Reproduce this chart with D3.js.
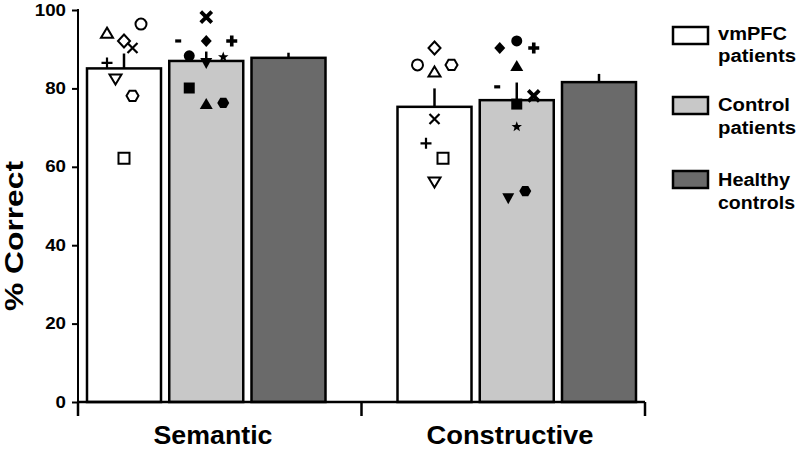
<!DOCTYPE html>
<html>
<head>
<meta charset="utf-8">
<script src="https://cdn.jsdelivr.net/npm/d3@7"></script>
<style>
  html, body { margin: 0; padding: 0; background: #fff; }
  svg { display: block; font-family: "Liberation Sans", Arial, sans-serif; font-weight: bold; }
</style>
</head>
<body>
<svg id="chart" width="800" height="449"></svg>
<script>
// ---------- data ----------
const groups = ["Semantic", "Constructive"];
const series = ["vmPFC patients", "Control patients", "Healthy controls"];
const legendLines = [["vmPFC", "patients"], ["Control", "patients"], ["Healthy", "controls"]];
const yTicks = [0, 20, 40, 60, 80, 100];

const vmpfcMean = [85.1, 75.3];
const controlMean = [87.0, 77.0];
const healthyMean = [87.8, 81.6];
const vmpfcSem = [3.8, 4.7];
const controlSem = [2.4, 4.5];
const healthySem = [1.3, 2.1];

const vmpfcSymbols = ["triangle", "circle", "diamond", "times", "plus", "triangleDown", "hexagon", "square"];
const vmpfcSemantic = [94.1, 96.4, 92.1, 90.3, 86.5, 82.4, 78.1, 62.2];
const vmpfcSemanticJitter = [-2, 2, 0, 1, -2, -1, 1, 0];
const vmpfcConstructive = [84.2, 86.0, 90.3, 72.2, 66.0, 56.1, 86.0, 62.2];
const vmpfcConstructiveJitter = [0, -2, 0, 0, -1, 0, 2, 1];

const controlSymbols = ["timesBold", "minus", "diamondFilled", "plusBold", "circleFilled", "triangleDownFilled", "star", "squareFilled", "triangleFilled", "hexagonFilled"];
const controlSemantic = [98.2, 92.1, 92.1, 92.1, 88.3, 86.5, 88.0, 80.1, 76.0, 76.3];
const controlSemanticJitter = [0, -3.3, 0, 3, -2, 0, 2, -2, 0, 2];
const controlConstructive = [78.1, 80.4, 90.3, 90.3, 92.1, 52.0, 70.2, 76.0, 85.7, 53.8];
const controlConstructiveJitter = [2, -2.3, -2, 2, 0, -1, 0, 0, 0, 1];

// ---------- layout ----------
const svg = d3.select("#chart");
const fills = ["#ffffff", "#c8c8c8", "#6a6a6a"];
const y = d3.scaleLinear().domain([0, 100]).range([402, 10]);
const x0 = d3.scaleBand().domain(groups).range([87, 636]).paddingInner(0.2319).paddingOuter(0);
const x1 = d3.scaleBand().domain(series).range([0, x0.bandwidth()]).paddingInner(0.1003).paddingOuter(0);
const jx = d3.scaleLinear().domain([-1, 1]).range([-8.5, 8.5]);

const means = [vmpfcMean, controlMean, healthyMean];
const sems = [vmpfcSem, controlSem, healthySem];
const barData = [];
groups.forEach((g, gi) => series.forEach((s, si) => barData.push({ g, s, si, v: means[si][gi], e: sems[si][gi] })));

// bars
svg.append("g").selectAll("rect").data(barData).join("rect")
  .attr("x", d => x0(d.g) + x1(d.s))
  .attr("y", d => y(d.v))
  .attr("width", x1.bandwidth())
  .attr("height", d => y(0) - y(d.v))
  .attr("fill", d => fills[d.si])
  .attr("stroke", "#000").attr("stroke-width", 2.5);

// error bars (upper only)
svg.append("g").selectAll("line").data(barData).join("line")
  .attr("x1", d => x0(d.g) + x1(d.s) + x1.bandwidth() / 2)
  .attr("x2", d => x0(d.g) + x1(d.s) + x1.bandwidth() / 2)
  .attr("y1", d => y(d.v))
  .attr("y2", d => y(d.v + d.e))
  .attr("stroke", "#000").attr("stroke-width", 2.5);

// ---------- symbols ----------
function poly(pts) { return "M" + pts.map(p => p[0].toFixed(2) + "," + p[1].toFixed(2)).join("L") + "Z"; }
function hexPts(r) { return d3.range(6).map(i => [r * Math.cos(i * Math.PI / 3), r * Math.sin(i * Math.PI / 3)]); }
function starPts(ro, ri) { return d3.range(10).map(i => { const a = -Math.PI / 2 + i * Math.PI / 5; const r = i % 2 ? ri : ro; return [r * Math.cos(a), r * Math.sin(a)]; }); }
const circ = r => `M${-r},0A${r},${r} 0 1,0 ${r},0A${r},${r} 0 1,0 ${-r},0Z`;
const symbolDefs = {
  triangle:           { d: poly([[0, -5.5], [6, 4.5], [-6, 4.5]]), fill: "#fff", sw: 2 },
  triangleDown:       { d: poly([[0, 5.5], [6, -4.5], [-6, -4.5]]), fill: "#fff", sw: 2 },
  circle:             { d: circ(5.5), fill: "#fff", sw: 2 },
  diamond:            { d: poly([[0, -6.5], [6, 0], [0, 6.5], [-6, 0]]), fill: "#fff", sw: 2 },
  square:             { d: poly([[-5.5, -5.5], [5.5, -5.5], [5.5, 5.5], [-5.5, 5.5]]), fill: "#fff", sw: 2 },
  hexagon:            { d: poly(hexPts(6)), fill: "#fff", sw: 2 },
  times:              { d: "M-5,-5L5,5M-5,5L5,-5", fill: "none", sw: 2.2 },
  plus:               { d: "M-5.5,0L5.5,0M0,-5.5L0,5.5", fill: "none", sw: 2.2 },
  timesBold:          { d: "M-5.5,-5.5L5.5,5.5M-5.5,5.5L5.5,-5.5", fill: "none", sw: 3.8 },
  plusBold:           { d: "M-5.5,0L5.5,0M0,-5.5L0,5.5", fill: "none", sw: 3.6 },
  minus:              { d: "M-3,0L3,0", fill: "none", sw: 3.2 },
  diamondFilled:      { d: poly([[0, -6], [5.5, 0], [0, 6], [-5.5, 0]]), fill: "#000", sw: 0 },
  circleFilled:       { d: circ(5.5), fill: "#000", sw: 0 },
  triangleDownFilled: { d: poly([[0, 6], [6, -5], [-6, -5]]), fill: "#000", sw: 0 },
  star:               { d: poly(starPts(5.5, 2.3)), fill: "#000", sw: 0 },
  squareFilled:       { d: poly([[-5.5, -5.5], [5.5, -5.5], [5.5, 5.5], [-5.5, 5.5]]), fill: "#000", sw: 0 },
  triangleFilled:     { d: poly([[0, -6], [6.5, 5], [-6.5, 5]]), fill: "#000", sw: 0 },
  hexagonFilled:      { d: poly(hexPts(6)), fill: "#000", sw: 0 }
};

const pointData = [];
function addPoints(sym, vals, jit, g, s) {
  sym.forEach((k, i) => pointData.push({ k, v: vals[i], j: jit[i], g, s }));
}
addPoints(vmpfcSymbols, vmpfcSemantic, vmpfcSemanticJitter, groups[0], series[0]);
addPoints(vmpfcSymbols, vmpfcConstructive, vmpfcConstructiveJitter, groups[1], series[0]);
addPoints(controlSymbols, controlSemantic, controlSemanticJitter, groups[0], series[1]);
addPoints(controlSymbols, controlConstructive, controlConstructiveJitter, groups[1], series[1]);

svg.append("g").selectAll("path").data(pointData).join("path")
  .attr("transform", d => `translate(${x0(d.g) + x1(d.s) + x1.bandwidth() / 2 + jx(d.j)},${y(d.v)})`)
  .attr("d", d => symbolDefs[d.k].d)
  .attr("fill", d => symbolDefs[d.k].fill)
  .attr("stroke", d => symbolDefs[d.k].sw ? "#000" : "none")
  .attr("stroke-width", d => symbolDefs[d.k].sw)
  .attr("stroke-linecap", "butt");

// ---------- axes ----------
const yAxis = svg.append("g").attr("transform", "translate(78,0)")
  .call(d3.axisLeft(y).tickValues(yTicks).tickSize(6).tickPadding(6).tickSizeOuter(0));
yAxis.select(".domain").remove();
yAxis.selectAll(".tick line").attr("stroke", "#000").attr("stroke-width", 2);
yAxis.selectAll(".tick text")
  .attr("font-size", 16).attr("font-weight", "bold").attr("fill", "#000")
  .attr("font-family", '"Liberation Sans", Arial, sans-serif')
  .attr("textLength", d => String(d).length * 10.4).attr("lengthAdjust", "spacingAndGlyphs");
svg.append("line").attr("x1", 78).attr("x2", 78).attr("y1", y(100) - 1).attr("y2", 416)
  .attr("stroke", "#000").attr("stroke-width", 2);

// x axis
const xLeft = x0.range()[0] - 9, xRight = x0.range()[1] + 9;
const bw = x0.bandwidth();
const mid = (x0(groups[0]) + bw + x0(groups[1])) / 2;
const xTicks = [xLeft, mid, xRight];
svg.append("line").attr("x1", xLeft).attr("x2", xRight).attr("y1", y(0)).attr("y2", y(0))
  .attr("stroke", "#000").attr("stroke-width", 2.5);
svg.append("g").selectAll("line").data(xTicks).join("line")
  .attr("x1", d => d).attr("x2", d => d).attr("y1", y(0)).attr("y2", 416)
  .attr("stroke", "#000").attr("stroke-width", 2.5);

const segCenters = [(xLeft + mid) / 2, (mid + xRight) / 2];
const groupLabelLen = [119, 167];
svg.append("g").selectAll("text").data(groups).join("text")
  .attr("x", (d, i) => ((x0(d) + bw / 2) + segCenters[i]) / 2)
  .attr("y", 443.5)
  .attr("text-anchor", "middle")
  .attr("font-size", 25)
  .attr("textLength", (d, i) => groupLabelLen[i]).attr("lengthAdjust", "spacingAndGlyphs")
  .text(d => d);

// y label
svg.append("text")
  .attr("transform", "translate(23,236) rotate(-90)")
  .attr("text-anchor", "middle")
  .attr("font-size", 25)
  .attr("textLength", 150).attr("lengthAdjust", "spacingAndGlyphs")
  .text("% Correct");

// ---------- legend ----------
const legendBoxY = [27, 97, 171];
const legendBase = [39.5, 111, 186];
const legendLens = [[69, 78], [72, 78], [72, 77]];
const lg = svg.append("g");
series.forEach((s, i) => {
  lg.append("rect").attr("x", 673).attr("y", legendBoxY[i]).attr("width", 35).attr("height", 17)
    .attr("fill", fills[i]).attr("stroke", "#000").attr("stroke-width", 2.5);
  legendLines[i].forEach((t, k) => {
    lg.append("text").attr("x", 718).attr("y", legendBase[i] + k * 22.5)
      .attr("font-size", 17.5)
      .attr("textLength", legendLens[i][k]).attr("lengthAdjust", "spacingAndGlyphs")
      .text(t);
  });
});
</script>
</body>
</html>
